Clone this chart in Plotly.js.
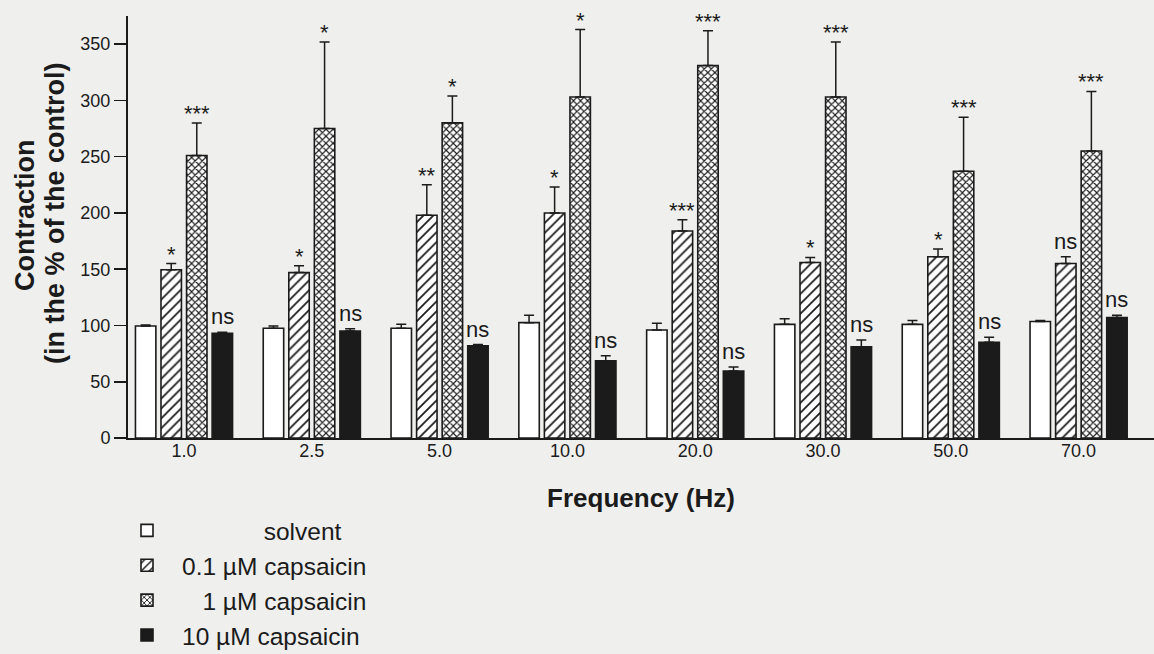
<!DOCTYPE html>
<html><head><meta charset="utf-8">
<script src="https://cdn.plot.ly/plotly-3.0.1.min.js"></script>
<style>html,body{margin:0;padding:0;background:#efefed;} #chart{width:1154px;height:654px;}</style>
</head><body><div id="chart"></div>
<script>
// ---- data ----
const frequencies = ['1.0', '2.5', '5.0', '10.0', '20.0', '30.0', '50.0', '70.0'];
const seriesNames = ['solvent', '0.1 \u00b5M capsaicin', '1 \u00b5M capsaicin', '10 \u00b5M capsaicin'];
const solvent    = [99.5, 97.5, 97.5, 102.5, 96, 101, 101, 103.5];
const solventErr = [1, 2, 3.5, 6.5, 6, 5, 3.5, 1];
const caps01     = [149.5, 147, 198, 200, 184, 156, 161, 155];
const caps01Err  = [5.5, 6, 27, 23, 10, 4.5, 7, 6];
const caps1      = [251, 275, 280, 303, 331, 303, 237, 255];
const caps1Err   = [29, 77, 24, 60, 31, 49, 48, 53];
const caps10     = [93, 95, 82, 68.5, 59.5, 81, 85, 107];
const caps10Err  = [1, 2, 1, 4.5, 3.5, 6, 4.5, 2];
const sig01 = ['*', '*', '**', '*', '***', '*', '*', 'ns'];
const sig1  = ['***', '*', '*', '*', '***', '***', '***', '***'];
const sig10 = ['ns', 'ns', 'ns', 'ns', 'ns', 'ns', 'ns', 'ns'];
const yTicks = [0, 50, 100, 150, 200, 250, 300, 350];

// ---- layout geometry ----
const W = 1154, H = 654;
const mL = 128, mR = 0, mT = 16, mB = 216;
const plotW = W - mL - mR, plotH = H - mT - mB;
const pxX = p => (p - mL) / plotW;
const pxY = p => (H - mB - p) / plotH;
const BARGAP = 0.2, GROUPGAP = 0.2;
const FONT = 'Liberation Sans, Arial, Helvetica, sans-serif';
const INK = '#1b1b1b';

const xIdx = frequencies.map((_, i) => i);
const slot = (1 - BARGAP) / 4;
const offsetOf = k => -(1 - BARGAP) / 2 + slot * (k + 0.5);

function barTrace(name, group, vals, errs, marker) {
  return {
    type: 'bar', name: name, legendgroup: group, x: xIdx, y: vals,
    marker: Object.assign({line: {color: INK, width: 1.6}}, marker),
    error_y: {type: 'data', array: errs, symmetric: false, color: INK, thickness: 1.5, width: 5},
    hoverinfo: 'y'
  };
}

const data = [
  barTrace('\u00a0\u00a0\u00a0\u00a0\u00a0\u00a0\u00a0\u00a0\u00a0\u00a0\u00a0\u00a0' + seriesNames[0], 'g0', solvent, solventErr, {color: '#ffffff'}),
  barTrace(seriesNames[1], 'g1', caps01, caps01Err, {color: '#ffffff', pattern: {shape: '/', fgcolor: INK, bgcolor: '#ffffff', size: 7, solidity: 0.25}}),
  barTrace('\u00a0\u00a0\u00a0' + seriesNames[2], 'g2', caps1, caps1Err, {color: '#ffffff', pattern: {shape: 'x', fgcolor: INK, bgcolor: '#ffffff', size: 5, solidity: 0.4}}),
  barTrace(seriesNames[3], 'g3', caps10, caps10Err, {color: INK})
];

const annotations = [];
[[caps01, caps01Err, sig01, 1], [caps1, caps1Err, sig1, 2], [caps10, caps10Err, sig10, 3]].forEach(([v, e, s, k]) => {
  s.forEach((txt, i) => {
    annotations.push({
      x: i + offsetOf(k), y: v[i] + e[i], xref: 'x', yref: 'y',
      text: txt, showarrow: false, xanchor: 'center', yanchor: 'bottom',
      yshift: txt === 'ns' ? 1 : -5,
      font: {family: FONT, size: 22, color: INK}
    });
  });
});
annotations.push({
  xref: 'paper', yref: 'paper', x: pxX(25), y: pxY(215), text: 'Contraction',
  textangle: -90, showarrow: false, xanchor: 'center', yanchor: 'middle',
  font: {family: FONT, size: 27, color: INK, weight: 'bold'}
});
annotations.push({
  xref: 'paper', yref: 'paper', x: pxX(55), y: pxY(214), text: '(in the % of the control)',
  textangle: -90, showarrow: false, xanchor: 'center', yanchor: 'middle',
  font: {family: FONT, size: 27, color: INK, weight: 'bold'}
});

const layout = {
  width: W, height: H,
  margin: {l: mL, r: mR, t: mT, b: mB, pad: 0, autoexpand: false},
  paper_bgcolor: '#efefed', plot_bgcolor: '#efefed',
  font: {family: FONT, color: INK, size: 18},
  barmode: 'group', bargap: BARGAP, bargroupgap: GROUPGAP,
  showlegend: true,
  legend: {
    x: pxX(112), y: pxY(508), xanchor: 'left', yanchor: 'top',
    orientation: 'v', bgcolor: 'rgba(0,0,0,0)', itemwidth: 60, tracegroupgap: 4,
    font: {family: FONT, size: 24.5, color: INK}, traceorder: 'normal'
  },
  xaxis: {
    range: [(mL - 184) / 127.8, (W - 184) / 127.8],
    tickvals: xIdx, ticktext: frequencies, ticks: '',
    showline: true, linecolor: INK, linewidth: 2, showgrid: false, zeroline: false,
    tickfont: {family: FONT, size: 18, color: INK}, ticklabelstandoff: -5,
    title: {text: 'Frequency (Hz)', standoff: 29, font: {family: FONT, size: 26, color: INK, weight: 'bold'}},
    fixedrange: true
  },
  yaxis: {
    range: [0, 375], tickvals: yTicks, ticks: 'outside', ticklen: 12, tickwidth: 1.6, tickcolor: INK,
    showline: true, linecolor: INK, linewidth: 2, showgrid: false, zeroline: false,
    tickfont: {family: FONT, size: 18, color: INK}, fixedrange: true
  },
  annotations: annotations
};

Plotly.newPlot('chart', data, layout, {displayModeBar: false, staticPlot: true});
</script>
</body></html>
